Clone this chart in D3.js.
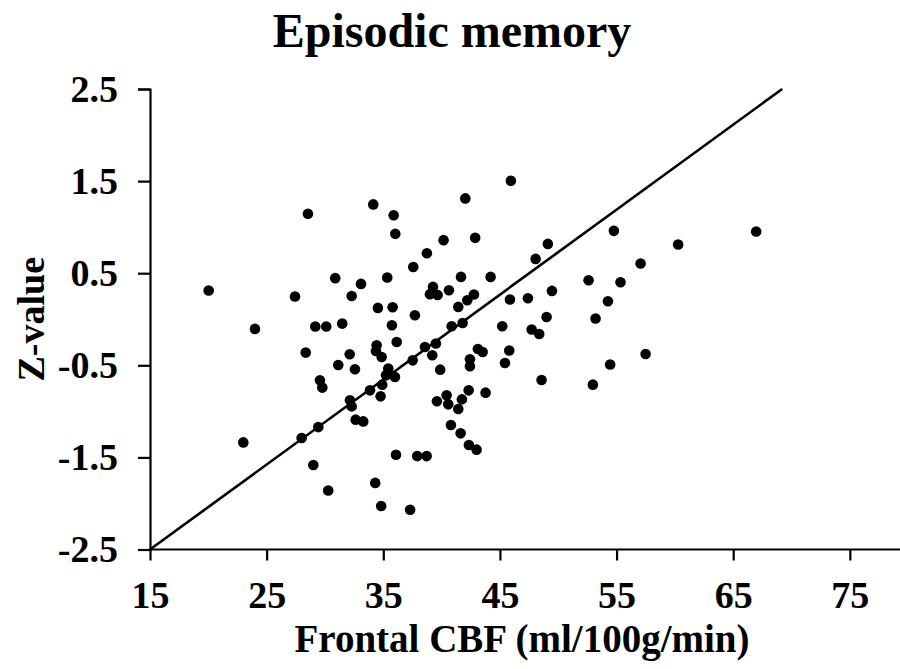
<!DOCTYPE html>
<html lang="en">
  <head>
    <meta charset="UTF-8" />
    <title>Episodic memory</title>
    <script src="https://d3js.org/d3.v7.min.js"></script>
    <style>
      body { margin: 0; background: #fff; }
      svg text { font-family: "Liberation Serif", "Times New Roman", serif; font-weight: bold; fill: #000; }
    </style>
  </head>
  <body>
    <div id="chart"></div>
    <script>
      // frontal CBF (x) and z-value (y)
      const cbf = [
        28.54, 34.14, 35.89, 36.03, 20.03, 30.88, 33.09, 35.34, 27.43, 32.29,
        34.54, 35.80, 24.00, 29.17, 30.11, 31.48, 35.74, 34.43, 36.15, 45.94,
        42.03, 40.17, 42.88, 38.74, 49.11, 48.06, 37.57, 41.66, 44.20, 52.60,
        39.26, 39.00, 39.66, 40.63, 42.77, 42.20, 41.43, 45.86, 47.40, 49.46,
        54.77, 54.26, 37.71, 49.00, 53.20, 40.86, 41.80, 45.20, 47.72, 48.37,
        38.57, 39.51, 43.11, 45.80, 66.97, 60.28, 57.06, 55.34, 57.49, 54.45,
        28.35, 32.12, 31.14, 32.57, 34.37, 34.86, 29.57, 29.77, 35.43, 35.23,
        36.00, 33.86, 34.91, 34.77, 32.14, 32.29, 32.63, 33.28, 29.43, 28.00,
        23.00, 36.09, 37.91, 38.72, 29.00, 34.31, 30.28, 34.82, 37.30, 39.20,
        37.52, 39.88, 43.52, 42.43, 42.43, 45.43, 48.57, 52.97, 42.32, 43.77,
        40.43, 39.60, 40.57, 41.74, 41.43, 40.80, 41.63, 42.34, 43.00
      ];
      const zval = [
        1.145, 1.247, 1.130, 0.927, 0.312, 0.446, 0.384, 0.453, 0.247, 0.253,
        0.123, 0.130, -0.105, -0.079, -0.079, -0.047, -0.065, -0.283, -0.247, 1.503,
        1.312, 0.859, 0.884, 0.717, 0.818, 0.655, 0.568, 0.460, 0.460, 0.424,
        0.351, 0.272, 0.264, 0.315, 0.268, 0.207, 0.134, 0.214, 0.228, 0.308,
        0.960, 0.196, 0.043, 0.025, 0.008, -0.076, -0.040, -0.076, -0.112, -0.160,
        -0.301, -0.264, -0.323, -0.340, 0.953, 0.812, 0.605, 0.402, -0.377, -0.492,
        -0.362, -0.380, -0.497, -0.543, -0.345, -0.410, -0.663, -0.742, -0.536, -0.609,
        -0.627, -0.772, -0.710, -0.837, -0.880, -0.946, -1.090, -1.109, -1.171, -1.290,
        -1.337, -1.471, -1.486, -1.486, -1.582, -1.777, -1.859, -2.027, -2.068, -0.391,
        -0.446, -0.547, -0.355, -0.435, -0.511, -0.475, -0.660, -0.710, -0.772, -0.797,
        -0.826, -0.891, -0.924, -0.870, -0.975, -1.149, -1.239, -1.366, -1.416
      ];
      // fitted line end points
      const fitX = [15, 69.2];
      const fitY = [-2.5, 2.5];
      const xTicks = [15, 25, 35, 45, 55, 65, 75];
      const yTicks = [-2.5, -1.5, -0.5, 0.5, 1.5, 2.5];

      const width = 900, height = 669;
      const svg = d3.select("#chart").append("svg")
        .attr("width", width)
        .attr("height", height);

      const x = d3.scaleLinear().domain([15, 79.3]).range([150, 900]);
      const y = d3.scaleLinear().domain([-2.5, 2.5]).range([549.5, 89]);

      // x axis
      const xAxis = svg.append("g")
        .attr("transform", `translate(0,${y(-2.5)})`)
        .call(d3.axisBottom(x).tickValues(xTicks).tickSize(11).tickPadding(20)
          .tickFormat(d => d));
      xAxis.select(".domain").attr("d", `M${x(15)},0H${width}`);

      // y axis
      const yAxis = svg.append("g")
        .attr("transform", `translate(${x(15)},0)`)
        .call(d3.axisLeft(y).tickValues(yTicks).tickSize(12).tickPadding(20)
          .tickFormat(d => d.toFixed(1)));

      svg.selectAll(".domain, .tick line")
        .attr("stroke", "#000")
        .attr("stroke-width", 2.2);
      svg.selectAll(".tick text")
        .attr("font-size", 38)
        .attr("fill", "#000");
      xAxis.selectAll(".tick text").attr("dy", "0.72em");

      // regression line
      svg.append("line")
        .attr("x1", x(fitX[0])).attr("y1", y(fitY[0]))
        .attr("x2", x(fitX[1])).attr("y2", y(fitY[1]))
        .attr("stroke", "#000")
        .attr("stroke-width", 2.6);

      // points
      svg.append("g").selectAll("circle")
        .data(cbf)
        .join("circle")
        .attr("cx", d => x(d))
        .attr("cy", (d, i) => y(zval[i]))
        .attr("r", 5.3)
        .attr("fill", "#000");

      // title and axis labels
      svg.append("text")
        .attr("x", 452).attr("y", 47)
        .attr("text-anchor", "middle")
        .attr("font-size", 48)
        .text("Episodic memory");

      svg.append("text")
        .attr("x", 522).attr("y", 652)
        .attr("text-anchor", "middle")
        .attr("font-size", 39)
        .text("Frontal CBF (ml/100g/min)");

      svg.append("text")
        .attr("transform", `translate(44,${y(0)}) rotate(-90)`)
        .attr("text-anchor", "middle")
        .attr("font-size", 38)
        .text("Z-value");
    </script>
  </body>
</html>
